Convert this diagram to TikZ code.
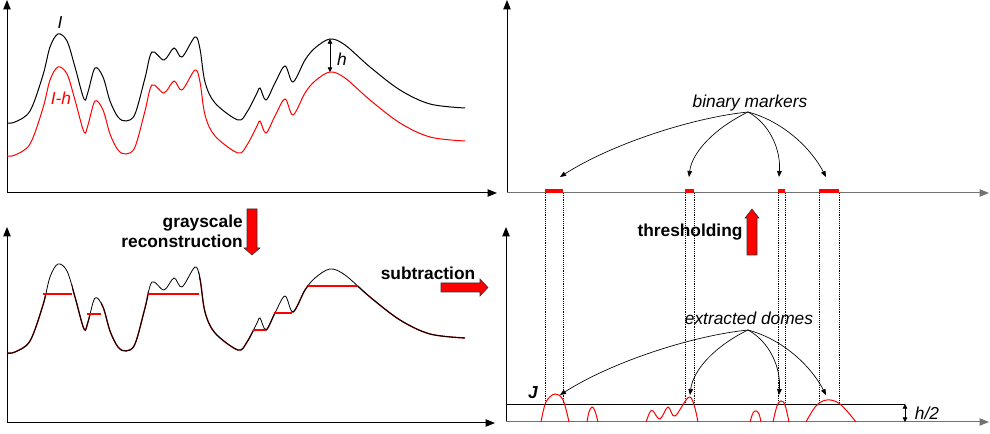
\documentclass[tikz,border=0pt]{standalone}
\usepackage{fontspec}
\setmainfont{Liberation Sans}
\usetikzlibrary{arrows.meta}
\begin{document}
\begin{tikzpicture}[x=0.75pt,y=-0.75pt,
  axis/.style={line width=0.75pt,-{Triangle[length=7pt,width=5.5pt]}},
  gaxis/.style={axis,draw=black!55},
  curve/.style={line width=0.75pt},
  lbl/.style={font=\fontsize{13}{15}\selectfont\itshape,inner sep=0pt},
  blbl/.style={font=\fontsize{13}{15}\selectfont\bfseries,inner sep=0pt},
  pointer/.style={line width=0.5pt,-{Triangle[length=4.5pt,width=3.5pt]}},
  dimarrow/.style={line width=0.6pt,{Triangle[length=3.5pt,width=3.5pt]}-{Triangle[length=3.5pt,width=3.5pt]}},
  marker/.style={fill=red,draw=none},
  guide/.style={densely dotted,line width=0.4pt},
  plateau/.style={red,line width=1pt},
  dome/.style={red,line width=0.75pt},
  blockarrow/.style={fill=red,draw=black!80,line width=0.4pt},
  icurve/.pic={\draw[curve,#1] plot[smooth,tension=0.55] coordinates {
    (7,123) (15,122) (30,111) (43,75) (50,47) (58,34) (67,41) (75,67) (84,99)
    (88,92) (95,68) (103,77) (110,101) (118,117) (126,121) (135,114) (145,78)
    (152,52) (164,60) (174,48) (182,57) (195,37) (200,49) (205,82) (215,103)
    (238,120) (247,112) (257,93) (260,88) (266,100) (275,83) (285,66) (293,82)
    (305,60) (315,48) (330,39) (345,45) (370,67) (400,90) (430,104) (465,108)};}
]
\useasboundingbox (0,0) rectangle (990,434);

% ---------- panel 1 (top left)
\coordinate (o1) at (7,193);
\coordinate (y1) at (7,0);
\coordinate (x1) at (497,193);
\draw[axis] (o1) -- (y1);
\draw[axis] (o1) -- (x1);
\pic at (0,0) {icurve=black};
\pic at (0,33) {icurve=red};
\coordinate (htop) at (330,39);
\coordinate (hbot) at (330,72);
\draw[dimarrow] (htop) -- (hbot);
\node[lbl] (lI) at (60,23) {I};
\node[lbl,red] (lIh) at (61,98) {I-h};
\node[lbl] (lh) at (342,59) {h};

% ---------- panel 2 (bottom left)
\coordinate (o2) at (7,423);
\coordinate (y2) at (7,227);
\coordinate (x2) at (495,423);
\draw[axis] (o2) -- (y2);
\draw[axis] (o2) -- (x2);
\begin{scope}
  \clip (0,200) -- (43,200) -- (43,294) -- (72,294) -- (72,200) -- (87,200)
    -- (87,314) -- (101,314) -- (101,200) -- (148,200) -- (148,294) -- (199,294)
    -- (199,200) -- (253,200) -- (253,330) -- (265,330) -- (265,200) -- (274,200)
    -- (274,313) -- (292,313) -- (292,200) -- (308,200) -- (308,286) -- (358,286)
    -- (358,200) -- (500,200) -- (500,434) -- (0,434) -- cycle;
  \pic at (0,230) {icurve={red!60!black,line width=1pt}};
\end{scope}
\pic at (0,230) {icurve={black,line width=0.6pt}};
\draw[plateau] (43,294) -- (72,294);
\draw[plateau] (87,314) -- (101,314);
\draw[plateau] (148,294) -- (199,294);
\draw[plateau] (253,330) -- (265,330);
\draw[plateau] (274,313) -- (292,313);
\draw[plateau] (308,286) -- (358,286);

% ---------- block arrows and operation labels
\draw[blockarrow] (247,209) -- (257,209) -- (257,248) -- (260,248) -- (252,255)
  -- (244,248) -- (247,248) -- cycle;
\node[blbl,align=right,anchor=east] (lrec) at (243,231) {grayscale\\reconstruction};
\draw[blockarrow] (441,283) -- (480,283) -- (480,279) -- (488,287.5) -- (480,296)
  -- (480,292) -- (441,292) -- cycle;
\node[blbl] (lsub) at (428,273) {subtraction};
\draw[blockarrow] (747,255) -- (747,218) -- (745,218) -- (752,209) -- (759,218)
  -- (757,218) -- (757,255) -- cycle;
\node[blbl] (lthr) at (690,232) {thresholding};

% ---------- panel 3 (top right)
\coordinate (o3) at (507,193);
\coordinate (y3) at (507,0);
\coordinate (x3) at (989,193);
\draw[axis] (o3) -- (y3);
\draw[gaxis] (o3) -- (x3);
\fill[marker] (545,189) rectangle (563,193);
\fill[marker] (685,189) rectangle (694,193);
\fill[marker] (778,189) rectangle (785,193);
\fill[marker] (819,189) rectangle (839,193);
\node[lbl] (lbm) at (750,103) {binary markers};
\coordinate (bmsrc) at (748,112);
\coordinate (bm1) at (560,177);
\coordinate (bm2) at (689,177);
\coordinate (bm3) at (779,177);
\coordinate (bm4) at (826,177);
\draw[pointer] (bmsrc) .. controls (690,118) and (610,145) .. (bm1);
\draw[pointer] (bmsrc) .. controls (715,128) and (692,152) .. (bm2);
\draw[pointer] (bmsrc) .. controls (770,124) and (781,150) .. (bm3);
\draw[pointer] (bmsrc) .. controls (785,122) and (812,150) .. (bm4);

% ---------- dotted guides
\foreach \gx in {545,563,685,694,778,785,819,839}
  \draw[guide] (\gx,193) -- (\gx,404);

% ---------- panel 4 (bottom right)
\coordinate (o4) at (506,422);
\coordinate (y4) at (506,227);
\coordinate (x4) at (989,422);
\draw[axis] (o4) -- (y4);
\draw[gaxis] (o4) -- (x4);
\coordinate (lvlL) at (506,404);
\coordinate (lvlR) at (905,404);
\draw[line width=0.7pt] (lvlL) -- (lvlR);
\coordinate (hhtop) at (905,404);
\coordinate (hhbot) at (905,422);
\draw[dimarrow] (hhtop) -- (hhbot);
\node[lbl] (lh2) at (927,413) {h/2};
\node[lbl,font=\fontsize{13}{15}\selectfont\bfseries\itshape] (lJ) at (533,393) {J};

\draw[dome] plot[smooth,tension=0.6] coordinates {(541,422) (546,402) (555,394) (563,400) (569,422)};
\draw[dome] plot[smooth,tension=0.6] coordinates {(587,422) (589,412) (592,407) (595,411) (598,422)};
\draw[dome] plot[smooth,tension=0.6] coordinates {(646,422) (650,412) (653,411) (660,419) (668,407) (675,416) (690,397) (698,422)};
\draw[dome] plot[smooth,tension=0.6] coordinates {(750,422) (753,413) (756,411) (759,414) (761,422)};
\draw[dome] plot[smooth,tension=0.6] coordinates {(773,422) (777,406) (781,401) (785,405) (789,422)};
\draw[dome] plot[smooth,tension=0.6] coordinates {(806,422) (816,406) (827,400) (840,404) (856,422)};

\node[lbl] (led) at (749,318) {extracted domes};
\coordinate (edsrc) at (748,330);
\coordinate (ed1) at (560,395);
\coordinate (ed2) at (690,395);
\coordinate (ed3) at (779,395);
\coordinate (ed4) at (826,395);
\draw[pointer] (edsrc) .. controls (690,336) and (610,363) .. (ed1);
\draw[pointer] (edsrc) .. controls (715,346) and (693,370) .. (ed2);
\draw[pointer] (edsrc) .. controls (770,342) and (781,368) .. (ed3);
\draw[pointer] (edsrc) .. controls (785,340) and (812,368) .. (ed4);
\end{tikzpicture}
\end{document}
